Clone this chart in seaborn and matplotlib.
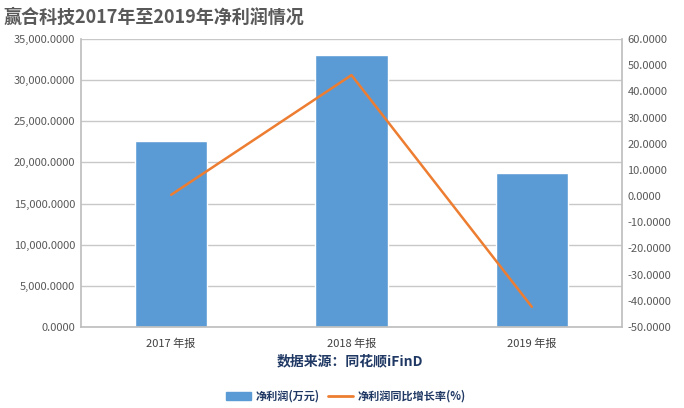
import pandas as pd
import seaborn as sns
import matplotlib.pyplot as plt
from matplotlib.ticker import FuncFormatter, MultipleLocator
from matplotlib.patches import Patch
from matplotlib.lines import Line2D

# Data
periods = ["2017 年报", "2018 年报", "2019 年报"]
net_profit = [22600, 33000, 18700]       # 净利润(万元)
growth_rate = [0.5, 46.2, -42.3]         # 净利润同比增长率(%)

bar_color = "#5b9bd5"
line_color = "#ed7d31"
tick_color = "#595959"
grid_color = "#c8c8c8"

sns.set_theme(style="white")
plt.rcParams['font.family'] = ['Noto Sans CJK SC', 'DejaVu Sans']

df = pd.DataFrame({"period": periods, "profit": net_profit, "growth": growth_rate})

fig = plt.figure(figsize=(6.84, 4.08), dpi=100)
ax = fig.add_axes([81 / 684, 1 - 327 / 408, 541 / 684, 288 / 408])

sns.barplot(data=df, x="period", y="profit", color=bar_color, width=0.4,
            saturation=1, ax=ax, zorder=2)
ax.set_ylim(0, 35000)
ax.yaxis.set_major_locator(MultipleLocator(5000))
ax.yaxis.set_major_formatter(FuncFormatter(lambda v, p: f"{v:,.4f}"))
ax.grid(axis="y", color=grid_color, linewidth=1, zorder=0)
ax.set_axisbelow(True)
ax.set_xlim(-0.5, 2.5)
ax.set_xlabel("")
ax.set_ylabel("")

# Secondary axis for growth rate
ax2 = ax.twinx()
sns.lineplot(x=[0, 1, 2], y=df["growth"], color=line_color, linewidth=1.8,
             ax=ax2, legend=False)
ax2.set_ylim(-50, 60)
ax2.yaxis.set_major_locator(MultipleLocator(10))
ax2.yaxis.set_major_formatter(FuncFormatter(lambda v, p: f"{v:.4f}"))
ax2.set_xlim(-0.5, 2.5)
ax2.set_ylabel("")

for a in (ax, ax2):
    for side in a.spines:
        a.spines[side].set_visible(False)
    a.tick_params(axis="both", length=0, labelsize=8, colors=tick_color, pad=4)
ax.spines["left"].set_visible(True)
ax.spines["left"].set_color("#bfbfbf")
ax.spines["bottom"].set_visible(True)
ax.spines["bottom"].set_color("#bfbfbf")
ax2.spines["right"].set_visible(True)
ax2.spines["right"].set_color("#bfbfbf")
ax.tick_params(axis="x", labelsize=8, colors="#404040", pad=8)

# Title and source
fig.text(4 / 684, 1 - 17 / 408, "赢合科技2017年至2019年净利润情况", fontsize=13,
         fontweight="bold", color="#595959", ha="left", va="center")
fig.text(350 / 684, 1 - 361 / 408, "数据来源：同花顺iFinD", fontsize=10,
         fontweight="bold", color="#1f3864", ha="center", va="center")

# Legend
handles = [Patch(color=bar_color, label="净利润(万元)"),
           Line2D([0], [0], color=line_color, linewidth=2, label="净利润同比增长率(%)")]
leg = fig.legend(handles=handles, loc="center", bbox_to_anchor=(346 / 684, 1 - 396 / 408),
                 ncol=2, frameon=False, fontsize=8, handlelength=2.2,
                 columnspacing=0.8, handletextpad=0.4)
for t in leg.get_texts():
    t.set_color("#1f3864")
    t.set_fontweight("bold")

fig.savefig("out.png", dpi=100)
